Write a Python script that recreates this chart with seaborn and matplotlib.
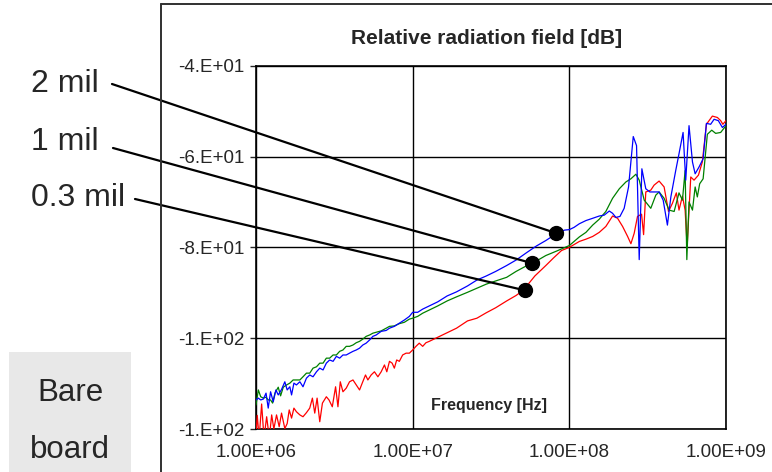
import numpy as np
import pandas as pd
import matplotlib
matplotlib.use("Agg")
import matplotlib.pyplot as plt
import seaborn as sns
from matplotlib.patches import ConnectionPatch, Rectangle
from matplotlib.lines import Line2D
from matplotlib.ticker import NullLocator

# ---------------- data (log10 of frequency in Hz, relative field in dB) ----------------
log_f_2mil = [6.000, 6.015, 6.030, 6.047, 6.064, 6.078, 6.093, 6.110, 6.127, 6.142,
              6.163, 6.184, 6.199, 6.216, 6.227, 6.242, 6.258, 6.280, 6.300, 6.322,
              6.343, 6.364, 6.386, 6.407, 6.428, 6.449, 6.470, 6.492, 6.513, 6.534,
              6.555, 6.576, 6.597, 6.619, 6.640, 6.661, 6.682, 6.703, 6.725, 6.746,
              6.767, 6.799, 6.831, 6.852, 6.883, 6.915, 6.947, 6.979, 7.000, 7.032,
              7.064, 7.106, 7.16, 7.22, 7.28, 7.35, 7.41, 7.47, 7.53, 7.60,
              7.66, 7.73, 7.79, 7.85, 7.93, 7.97, 8.000, 8.03, 8.064, 8.106,
              8.149, 8.191, 8.223, 8.255, 8.276, 8.297, 8.323, 8.350, 8.378, 8.408,
              8.429, 8.446, 8.463, 8.488, 8.514, 8.541, 8.573, 8.599, 8.626, 8.648,
              8.679, 8.700, 8.726, 8.743, 8.764, 8.786, 8.803, 8.828, 8.854, 8.875,
              8.902, 8.924, 8.951, 8.977, 9.000]
db_2mil = [-113.6, -113.2, -113.6, -113.4, -112.1, -115.4, -111.8, -114.0, -111.4, -112.5,
           -111.3, -109.6, -111.4, -110.7, -112.5, -109.9, -110.3, -109.6, -110.7, -108.8,
           -108.1, -108.5, -107.4, -106.6, -107.0, -105.5, -104.8, -105.1, -104.0, -104.4,
           -103.7, -103.7, -103.3, -102.9, -102.6, -102.2, -101.5, -101.1, -100.4, -99.6,
           -99.3, -98.5, -98.3, -97.8, -97.4, -96.7, -96.0, -95.2, -94.3, -94.3,
           -93.6, -92.9, -92.0, -90.7, -89.8, -88.5, -87.2, -86.3, -85.3, -84.0,
           -82.8, -81.1, -79.7, -78.5, -76.7, -76.2, -76.1, -75.6, -74.8, -74.1,
           -73.6, -73.1, -72.9, -72.0, -72.5, -73.4, -73.2, -71.4, -66.7, -55.6,
           -57.6, -82.7, -62.7, -67.1, -67.8, -67.8, -67.8, -69.6, -75.1, -68.9,
           -63.1, -59.4, -54.7, -65.2, -53.2, -61.2, -63.8, -62.3, -60.5, -52.7,
           -52.9, -51.8, -52.1, -53.6, -52.9]

log_f_1mil = [6.000, 6.015, 6.030, 6.047, 6.064, 6.078, 6.093, 6.106, 6.121, 6.142,
              6.157, 6.174, 6.195, 6.216, 6.237, 6.258, 6.280, 6.300, 6.322, 6.343,
              6.364, 6.386, 6.407, 6.428, 6.449, 6.470, 6.492, 6.513, 6.534, 6.555,
              6.576, 6.597, 6.619, 6.640, 6.661, 6.682, 6.703, 6.725, 6.746, 6.767,
              6.799, 6.831, 6.852, 6.883, 6.915, 6.947, 6.979, 7.000, 7.032, 7.064,
              7.106, 7.16, 7.22, 7.28, 7.35, 7.41, 7.47, 7.53, 7.60, 7.66,
              7.73, 7.79, 7.85, 7.92, 8.000, 8.064, 8.106, 8.149, 8.191, 8.233,
              8.276, 8.319, 8.361, 8.393, 8.425, 8.446, 8.478, 8.520, 8.552, 8.573,
              8.605, 8.637, 8.669, 8.700, 8.722, 8.739, 8.750, 8.764, 8.786, 8.803,
              8.817, 8.832, 8.854, 8.881, 8.909, 8.934, 8.966, 9.000]
db_1mil = [-114.7, -111.4, -112.9, -113.2, -113.0, -113.6, -113.6, -114.3, -112.1, -110.8,
           -112.7, -110.8, -110.3, -109.9, -109.2, -109.2, -109.2, -108.5, -107.7, -107.7,
           -106.6, -106.3, -105.5, -105.5, -104.4, -104.4, -103.7, -103.7, -102.9, -102.6,
           -101.8, -101.8, -101.5, -101.0, -100.7, -100.2, -99.6, -99.3, -98.9, -98.7,
           -98.4, -97.8, -97.4, -97.3, -96.8, -96.5, -95.8, -95.6, -95.2, -94.5,
           -93.8, -92.9, -91.8, -90.9, -89.9, -89.0, -88.1, -87.4, -86.6, -85.3,
           -84.0, -83.0, -81.8, -80.8, -79.6, -77.7, -76.7, -75.1, -73.8, -72.1,
           -69.2, -67.1, -65.6, -64.9, -63.9, -65.2, -69.6, -71.4, -68.5, -67.8,
           -69.2, -71.8, -72.1, -68.0, -69.6, -63.1, -82.7, -70.0, -71.8, -66.7,
           -68.9, -66.0, -64.9, -55.1, -54.2, -54.9, -54.7, -53.2]

log_f_03mil = [6.000, 6.008, 6.020, 6.036, 6.051, 6.068, 6.085, 6.100, 6.114, 6.131,
               6.148, 6.163, 6.184, 6.199, 6.212, 6.227, 6.242, 6.258, 6.280, 6.300,
               6.322, 6.343, 6.360, 6.375, 6.390, 6.407, 6.424, 6.449, 6.466, 6.487,
               6.508, 6.523, 6.538, 6.555, 6.576, 6.597, 6.619, 6.640, 6.661, 6.678,
               6.699, 6.714, 6.735, 6.756, 6.778, 6.799, 6.820, 6.835, 6.852, 6.869,
               6.883, 6.898, 6.915, 6.936, 6.958, 6.979, 7.000, 7.021, 7.042, 7.064,
               7.085, 7.106, 7.16, 7.22, 7.28, 7.35, 7.41, 7.47, 7.53, 7.60,
               7.66, 7.70, 7.74, 7.78, 7.85, 7.90, 7.95, 8.000, 8.064, 8.106,
               8.149, 8.191, 8.233, 8.276, 8.308, 8.340, 8.372, 8.393, 8.414, 8.435,
               8.461, 8.474, 8.488, 8.520, 8.541, 8.573, 8.605, 8.633, 8.658, 8.683,
               8.700, 8.722, 8.739, 8.752, 8.775, 8.796, 8.824, 8.849, 8.875, 8.913,
               8.945, 8.966, 8.980, 9.000]
db_03mil = [-121.0, -117.0, -122.0, -114.5, -122.0, -117.3, -122.0, -116.9, -120.0, -116.9,
            -119.5, -116.5, -119.9, -118.8, -115.8, -117.6, -115.4, -116.2, -116.9, -117.3,
            -116.4, -115.4, -113.2, -116.5, -113.2, -118.4, -114.3, -112.9, -113.6, -115.1,
            -110.7, -115.1, -109.6, -111.8, -111.0, -109.6, -109.2, -110.3, -111.4, -109.9,
            -108.1, -109.2, -108.1, -107.4, -108.5, -107.4, -105.9, -107.4, -105.1, -105.5,
            -106.6, -104.8, -105.1, -103.7, -103.3, -103.3, -102.6, -101.8, -101.1, -101.8,
            -101.0, -100.7, -99.8, -98.8, -97.8, -96.2, -95.6, -94.4, -93.3, -91.8,
            -90.6, -89.6, -88.0, -86.3, -84.0, -82.3, -80.7, -80.0, -78.7, -78.2,
            -77.6, -76.7, -75.4, -73.1, -73.6, -75.4, -77.6, -79.2, -76.9, -73.2,
            -72.7, -77.2, -67.8, -67.4, -66.3, -65.4, -66.7, -72.1, -70.3, -68.0,
            -71.8, -68.7, -71.8, -79.8, -64.5, -65.2, -64.1, -61.2, -52.9, -51.1,
            -51.4, -52.1, -52.9, -52.1]

series_names = ["0.3 mil", "1 mil", "2 mil"]
series_colors = ["#ff0000", "#008000", "#0000ff"]

# callout markers (one per series label)
callout_labels = ["2 mil", "1 mil", "0.3 mil"]
callout_log_f = [7.917, 7.764, 7.720]
callout_db = [-76.9, -83.5, -89.5]

x_tick_values = [1e6, 1e7, 1e8, 1e9]
x_tick_labels = ["1.00E+06", "1.00E+07", "1.00E+08", "1.00E+09"]
y_tick_values = [-40, -60, -80, -100, -120]
y_tick_labels = ["-4.E+01", "-6.E+01", "-8.E+01", "-1.E+02", "-1.E+02"]

# ---------------- build table ----------------
frames = []
for name, lf, db in [("0.3 mil", log_f_03mil, db_03mil),
                     ("1 mil", log_f_1mil, db_1mil),
                     ("2 mil", log_f_2mil, db_2mil)]:
    frames.append(pd.DataFrame({"freq": 10 ** np.asarray(lf), "db": db, "series": name}))
df = pd.concat(frames, ignore_index=True)

sns.set_style("white")
plt.rcParams["font.family"] = ["Liberation Sans", "DejaVu Sans"]

W, H = 772, 472
fig = plt.figure(figsize=(W / 100, H / 100), dpi=100)

# outer frame (left and top edges of chart area)
fig.add_artist(Line2D([160.5 / W, 160.5 / W], [0, 1 - 4 / H], transform=fig.transFigure,
                      color="#303030", lw=1.4))
fig.add_artist(Line2D([160.5 / W, 1], [1 - 4 / H, 1 - 4 / H], transform=fig.transFigure,
                      color="#303030", lw=1.4))

# "Bare board" box
fig.add_artist(Rectangle((9 / W, 0), 122 / W, 120 / H, transform=fig.transFigure,
                         facecolor="#e8e8e8", edgecolor="none"))
fig.text(70 / W, 1 - 401 / H, "Bare", fontsize=22.5, ha="center", va="baseline")
fig.text(70 / W, 1 - 458 / H, "board", fontsize=22.5, ha="center", va="baseline")

ax = fig.add_axes([256 / W, 1 - 429 / H, 470 / W, (429 - 65.7) / H])

sns.lineplot(data=df, x="freq", y="db", hue="series", hue_order=series_names,
             palette=dict(zip(series_names, series_colors)), estimator=None,
             sort=False, lw=0.9, legend=False, ax=ax, zorder=3)

ax.set_xscale("log")
ax.set_xlim(1e6, 1e9)
ax.set_ylim(-120, -40)
ax.set_xticks(x_tick_values)
ax.set_xticklabels(x_tick_labels)
ax.set_yticks(y_tick_values)
ax.set_yticklabels(y_tick_labels)
ax.xaxis.set_minor_locator(NullLocator())
ax.set_xlabel("")
ax.set_ylabel("")
ax.grid(True, color="black", lw=1.0)
ax.set_axisbelow(True)
for s in ax.spines.values():
    s.set_color("black")
    s.set_linewidth(1.2)
ax.tick_params(axis="x", length=0, pad=11, labelsize=13.5)
ax.tick_params(axis="y", length=4.5, width=1.0, direction="out", pad=4, labelsize=13.5,
               left=True)

ax.text(0.496, 0.066, "Frequency [Hz]", transform=ax.transAxes, ha="center", va="center",
        fontsize=11.5, fontweight="bold")
fig.text(487 / W, 1 - 38 / H, "Relative radiation field [dB]", ha="center", va="center",
         fontsize=15, fontweight="bold")

# callouts
label_pos = [(31, 92, 112, 84), (31, 150, 113, 148), (31, 206, 135, 199)]
for lab, lf, db, (tx, ty, lx, ly) in zip(callout_labels, callout_log_f, callout_db, label_pos):
    fig.text(tx / W, 1 - ty / H, lab, fontsize=23, ha="left", va="baseline")
    con = ConnectionPatch(xyA=(lx / W, 1 - ly / H), coordsA=fig.transFigure,
                          xyB=(10 ** lf, db), coordsB=ax.transData,
                          color="black", lw=1.6)
    fig.add_artist(con)
ax.plot(10 ** np.asarray(callout_log_f), callout_db, "o", color="black", ms=10,
        zorder=6, clip_on=False)

fig.savefig("out.png", dpi=100)
